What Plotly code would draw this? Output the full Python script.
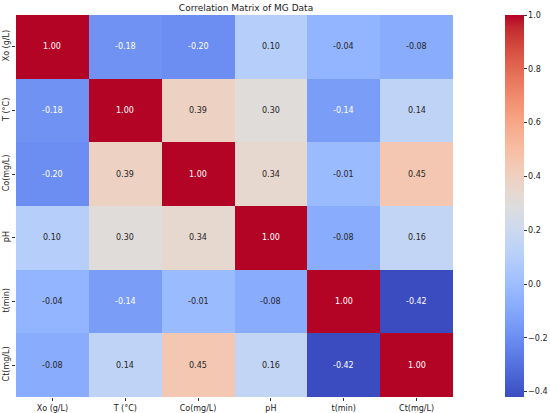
import numpy as np
import plotly.graph_objects as go

# Correlation matrix of MG data
labels = ['Xo (g/L)', 'T (°C)', 'Co(mg/L)', 'pH', 't(min)', 'Ct(mg/L)']
corr = [
    [1.00, -0.18, -0.20, 0.10, -0.04, -0.08],
    [-0.18, 1.00, 0.39, 0.30, -0.14, 0.14],
    [-0.20, 0.39, 1.00, 0.34, -0.01, 0.45],
    [0.10, 0.30, 0.34, 1.00, -0.08, 0.16],
    [-0.04, -0.14, -0.01, -0.08, 1.00, -0.42],
    [-0.08, 0.14, 0.45, 0.16, -0.42, 1.00],
]
cbar_ticks = [-0.4, -0.2, 0.0, 0.2, 0.4, 0.6, 0.8, 1.0]

# coolwarm (Moreland) sampled
cw = [
    (59, 76, 192), (68, 90, 204), (77, 104, 215), (87, 117, 225), (98, 130, 234),
    (108, 142, 241), (119, 154, 247), (130, 165, 251), (141, 176, 254), (152, 185, 255),
    (163, 194, 255), (174, 201, 253), (184, 208, 249), (194, 213, 244), (204, 217, 238),
    (213, 219, 230), (221, 221, 221), (229, 216, 209), (236, 211, 197), (241, 204, 185),
    (245, 196, 173), (247, 187, 160), (247, 177, 148), (247, 166, 135), (244, 154, 123),
    (241, 141, 111), (236, 127, 99), (229, 112, 88), (222, 96, 77), (213, 80, 66),
    (203, 62, 56), (192, 40, 47), (180, 4, 38),
]
n = len(cw) - 1
colorscale = [[i / n, 'rgb(%d,%d,%d)' % c] for i, c in enumerate(cw)]

z = np.array(corr)
zmin, zmax = z.min(), z.max()


def cell_rgb(v):
    t = (v - zmin) / (zmax - zmin) * n
    i = min(int(t), n - 1)
    f = t - i
    return [(cw[i][k] * (1 - f) + cw[i + 1][k] * f) / 255 for k in range(3)]


def lum(rgb):
    c = [x / 12.92 if x <= 0.03928 else ((x + 0.055) / 1.055) ** 2.4 for x in rgb]
    return 0.2126 * c[0] + 0.7152 * c[1] + 0.0722 * c[2]


fig = go.Figure(go.Heatmap(
    z=z, x=labels, y=labels,
    colorscale=colorscale, zmin=zmin, zmax=zmax,
    xgap=0, ygap=0,
    colorbar=dict(
        x=1.119, xanchor='left', y=0.5, yanchor='middle', xpad=0, ypad=0,
        len=1, lenmode='fraction', thickness=19, outlinewidth=0,
        tickvals=cbar_ticks, ticktext=['−0.4', '−0.2', '0.0', '0.2', '0.4', '0.6', '0.8', '1.0'],
        ticks='outside', ticklen=3, tickcolor='#333',
        tickfont=dict(size=8, color='#222'),
    ),
    hoverinfo='skip',
))

for r, row in enumerate(corr):
    for c, v in enumerate(row):
        col = 'white' if lum(cell_rgb(v)) <= 0.408 else '#262626'
        fig.add_annotation(x=labels[c], y=labels[r], text='%.2f' % v,
                           showarrow=False, font=dict(size=8, color=col))

fig.update_layout(
    width=550, height=413,
    margin=dict(l=16, r=97, t=15, b=16, autoexpand=False),
    paper_bgcolor='white', plot_bgcolor='white',
    font=dict(family='DejaVu Sans', size=8, color='#222'),
    title=dict(text='Correlation Matrix of MG Data', x=246 / 550, xanchor='center',
               y=1 - 8 / 413, yanchor='middle', font=dict(size=9, color='#222')),
    xaxis=dict(ticks='outside', ticklen=3, tickcolor='#333', showgrid=False, automargin=False,
               tickfont=dict(size=8), zeroline=False),
    yaxis=dict(ticks='outside', ticklen=3, tickcolor='#333', showgrid=False, automargin=False,
               tickfont=dict(size=8), autorange='reversed', tickangle=-90, zeroline=False),
)

# page body has a default 8px margin; drop it so the figure sits at the window corner
fig.write_html('out.html', config={'displayModeBar': False},
               post_script="document.body.style.margin='0';")
